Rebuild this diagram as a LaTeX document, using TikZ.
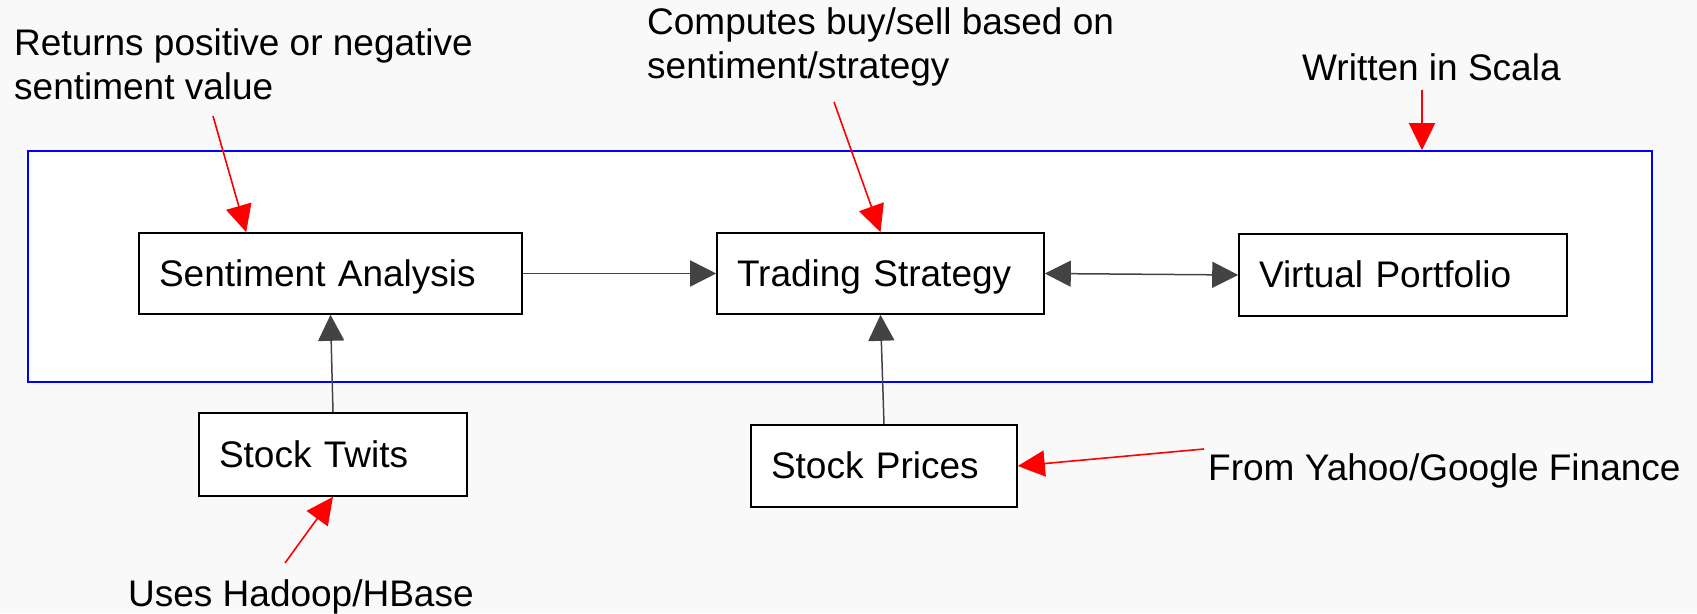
\documentclass[tikz,border=0pt]{standalone}
\usepackage{fontspec}
\setmainfont{Liberation Sans}
\usetikzlibrary{arrows.meta,calc}
\definecolor{bgcol}{RGB}{249,249,249}
\definecolor{conngray}{RGB}{67,67,67}
\definecolor{notered}{RGB}{255,0,0}
\definecolor{scalablue}{RGB}{0,0,255}
\begin{document}
\begin{tikzpicture}[x=1pt,y=1pt,
  every node/.style={font=\fontsize{37pt}{44pt}\selectfont},
  blockbox/.style={draw=black, fill=white, line width=1.6pt, inner xsep=20pt, inner ysep=0pt,
    align=left, text height=26pt, text depth=0pt, minimum height=#1},
  blockbox/.default=81pt,
  notetext/.style={inner sep=0pt, anchor=base west, align=left},
  flow/.style={draw=conngray, line width=1.5pt, -{Triangle[length=26pt,width=26pt]}},
  flowboth/.style={draw=conngray, line width=1.5pt, {Triangle[length=26pt,width=26pt]}-{Triangle[length=26pt,width=26pt]}},
  notearrow/.style={draw=notered, line width=1.6pt, -{Triangle[length=27pt,width=26pt]}}
]
\fill[bgcol] (0,0) rectangle (1697,613);
\useasboundingbox (0,0) rectangle (1697,613);

% Scala container
\node[draw=scalablue, fill=white, line width=1.6pt, minimum width=1624pt, minimum height=231pt, inner sep=0pt] (scala) at (840,346.5) {};

% blocks
\node[blockbox, text width=343pt, minimum width=383pt] (SA) at (330.5,339.5) {Sentiment Analysis};
\node[blockbox, text width=287pt, minimum width=327pt] (TS) at (880.5,339.5) {Trading Strategy};
\node[blockbox=82pt, text width=288pt, minimum width=328pt] (VP) at (1403,338) {Virtual Portfolio};
\node[blockbox=83pt, text width=228pt, minimum width=268pt] (ST) at (333,158.5) {Stock Twits};
\node[blockbox=82pt, text width=226pt, minimum width=266pt] (SP) at (884,147) {Stock Prices};

% notes (base anchor = baseline of last line)
\node[notetext] (nret) at (14,513) {Returns positive or negative\\sentiment value};
\node[notetext] (ncomp) at (647,534) {Computes buy/sell based on\\sentiment/strategy};
\node[notetext] (nscala) at (1302,532) {Written in Scala};
\node[notetext] (nuses) at (128,6) {Uses Hadoop/HBase};
\node[notetext] (nfin) at (1208,132) {From Yahoo/Google Finance};

% connectors
\draw[flow] (SA.east) -- (TS.west);
\draw[flowboth] (TS.east) -- (VP.west);
\draw[flow] (ST.north) -- (SA.south);
\draw[flow] (SP.north) -- (TS.south);

% note arrows
\coordinate (rtail) at (213,497);
\coordinate (ctail) at (834,511);
\coordinate (stail) at (1422,523);
\coordinate (utail) at (285,50);
\coordinate (ftail) at (1204,164);
\draw[notearrow] (rtail) -- ($(SA.north west)+(108pt,0pt)$);
\draw[notearrow] (ctail) -- (TS.north);
\draw[notearrow] (stail) -- (stail |- scala.north);
\draw[notearrow] (utail) -- (ST.south);
\draw[notearrow] (ftail) -- (SP.east);
\end{tikzpicture}
\end{document}
